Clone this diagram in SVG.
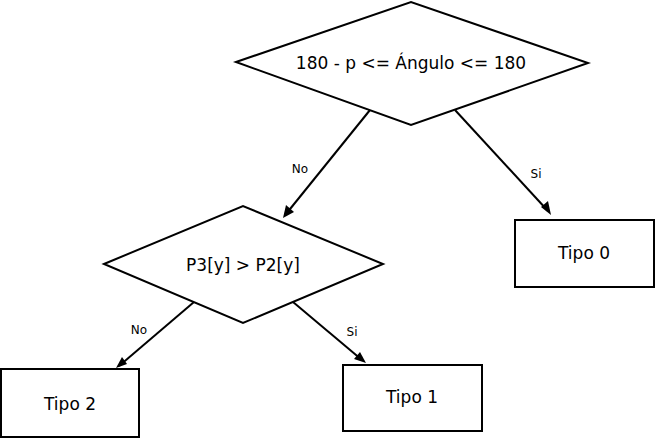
<svg xmlns="http://www.w3.org/2000/svg" width="657" height="440" viewBox="0 0 657 440">
<style>
.shape{fill:#fff;stroke:#000;stroke-width:2}
.t{font-family:"DejaVu Sans",sans-serif;font-size:17px;fill:#000;text-anchor:middle}
.lbl{font-family:"DejaVu Sans",sans-serif;font-size:12px;fill:#000;text-anchor:middle}
.edge{stroke:#000;stroke-width:2;fill:none}
.head{fill:#000}
</style>
<rect width="657" height="440" fill="#fff"/>
<g id="edges">
<line class="edge" x1="370" y1="110" x2="286" y2="214"/>
<line class="edge" x1="455" y1="110" x2="548" y2="211"/>
<line class="edge" x1="194" y1="302" x2="119" y2="366"/>
<line class="edge" x1="293" y1="302" x2="362" y2="360"/>
<path class="head" d="M283,218 L286,205 L294,212 Z"/>
<path class="head" d="M551,215 L541,207 L548,201 Z"/>
<path class="head" d="M116,368 L122,357 L127,364 Z"/>
<path class="head" d="M366,363 L354,359 L360,352 Z"/>
</g>
<g id="node-cond1">
<polygon class="shape" points="236,62 411,2 588,63 411,125"/>
<text class="t" x="411" y="69">180 - p &lt;= Ángulo &lt;= 180</text>
</g>
<g id="node-cond2">
<polygon class="shape" points="104,264 243,206 383,264 243,323"/>
<text class="t" x="243" y="271">P3[y] &gt; P2[y]</text>
</g>
<g id="node-tipo0">
<rect class="shape" x="515" y="220" width="139" height="67"/>
<text class="t" x="584" y="259">Tipo 0</text>
</g>
<g id="node-tipo2">
<rect class="shape" x="1" y="369" width="138" height="68"/>
<text class="t" x="70" y="410">Tipo 2</text>
</g>
<g id="node-tipo1">
<rect class="shape" x="343" y="365" width="139" height="66"/>
<text class="t" x="412" y="403">Tipo 1</text>
</g>
<g id="labels">
<text class="lbl" x="300" y="173">No</text>
<text class="lbl" x="536" y="178">Si</text>
<text class="lbl" x="139" y="334">No</text>
<text class="lbl" x="352" y="336">Si</text>
</g>
</svg>
